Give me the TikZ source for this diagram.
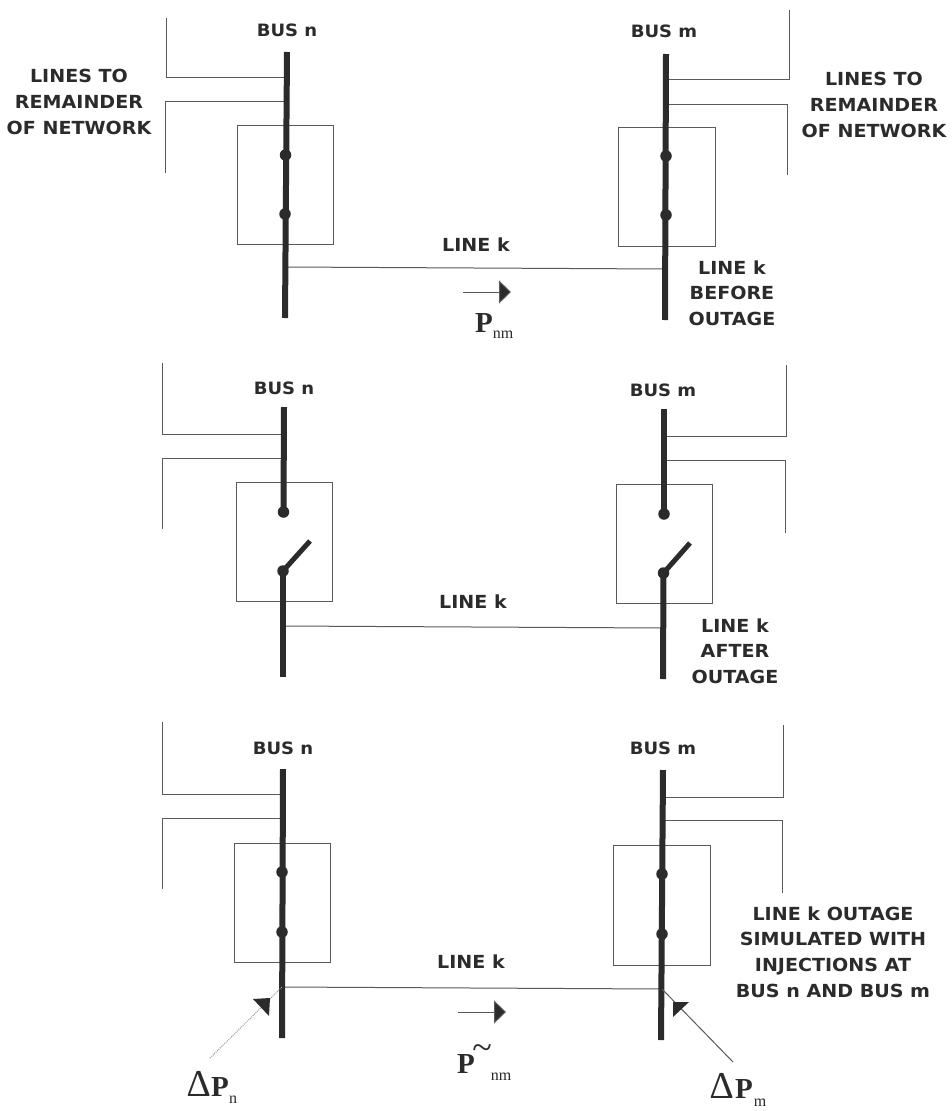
\documentclass[tikz,border=0pt]{standalone}
\usepackage{fontspec}
\setmainfont[FakeStretch=1.06]{DejaVu Sans}
\newfontfamily\pfont{Liberation Serif}
\usetikzlibrary{arrows.meta}
\definecolor{ink}{HTML}{2B2B2B}
\definecolor{thin}{HTML}{5A5A5A}
\tikzset{
  x=1pt,y=-1pt,
  busbar/.style={draw=ink,line width=6pt},
  wire/.style={draw=thin,line width=1pt},
  relaybox/.style={draw=thin,line width=1pt,fill=none},
  contact/.style={circle,fill=ink,inner sep=0pt,minimum size=11.5pt},
  blade/.style={draw=ink,line width=5pt},
  lab/.style={font=\fontsize{18}{25.7}\selectfont\bfseries,text=ink,align=center,inner sep=0pt},
  buslab/.style={font=\fontsize{17}{25.7}\selectfont\bfseries,text=ink,align=center,inner sep=0pt},
  flow/.style={draw=thin,line width=1pt,-{Triangle[length=12pt,width=23pt,fill=ink]}},
  pbig/.style={font=\pfont\fontsize{29}{29}\selectfont\bfseries,text=ink,inner sep=0pt},
  psub/.style={font=\pfont\fontsize{16}{16}\selectfont,text=ink,inner sep=0pt},
  dbig/.style={font=\pfont\fontsize{38}{38}\selectfont,text=ink,inner sep=0pt},
  tip/.style={fill=ink,draw=none},
}
\begin{document}
\begin{tikzpicture}
\useasboundingbox (0,0) rectangle (951,1111);
\fill[white] (0,0) rectangle (951,1111);

% ---------- panel 1 ----------
\draw[relaybox] (237,125) rectangle (333,244);
\draw[relaybox] (618,127) rectangle (715,246);
\coordinate (a1t) at (287,52);  \coordinate (a1b) at (285,318);
\coordinate (b1t) at (666,54);  \coordinate (b1b) at (665,320);
\coordinate (a1u) at (286,77);  \coordinate (a1l) at (286,101);
\coordinate (b1u) at (666,79);  \coordinate (b1l) at (666,104);
\coordinate (a1k) at (285,267); \coordinate (b1k) at (665,269);
\draw[wire] (166,18) |- (a1u);
\draw[wire] (165,173) |- (a1l);
\draw[wire] (789,10) |- (b1u);
\draw[wire] (787,175) |- (b1l);
\draw[wire] (a1k) -- (b1k);
\draw[busbar] (a1t) -- (a1b);
\draw[busbar] (b1t) -- (b1b);
\node[contact] (a1p) at (285.5,155) {};
\node[contact] (a1q) at (285,214) {};
\node[contact] (b1p) at (666,156) {};
\node[contact] (b1q) at (666,215) {};
\node[buslab] (bn1) at (287,30) {BUS n};
\node[buslab] (bm1) at (664,31) {BUS m};
\node[lab] (rem1) at (79,102) {LINES TO\\REMAINDER\\OF NETWORK};
\node[lab] (rem2) at (874,105) {LINES TO\\REMAINDER\\OF NETWORK};
\node[lab] (lk1) at (476,245) {LINE k};
\node[lab] (st1) at (732,293) {LINE k\\BEFORE\\OUTAGE};
\coordinate (f1s) at (463,292); \coordinate (f1e) at (511,292);
\draw[flow] (f1s) -- (f1e);
\node[pbig] (p1) at (484,323) {P};
\node[psub] (p1s) at (503,335) {nm};

% ---------- panel 2 ----------
\draw[relaybox] (236,482) rectangle (332,601);
\draw[relaybox] (616,484) rectangle (712,603);
\coordinate (a2t) at (284,407);  \coordinate (a2b) at (283,677);
\coordinate (b2t) at (664,409);  \coordinate (b2b) at (663,679);
\coordinate (a2u) at (284,434);  \coordinate (a2l) at (284,458);
\coordinate (b2u) at (664,436);  \coordinate (b2l) at (664,460);
\coordinate (a2k) at (283,626);  \coordinate (b2k) at (663,628);
\coordinate (a2s) at (310,541);  \coordinate (b2s) at (690,543);
\draw[wire] (162,363) |- (a2u);
\draw[wire] (162,529) |- (a2l);
\draw[wire] (786,365) |- (b2u);
\draw[wire] (785,533) |- (b2l);
\draw[wire] (a2k) -- (b2k);
\node[contact] (a2p) at (283.5,512) {};
\node[contact] (a2q) at (283,571) {};
\node[contact] (b2p) at (664,514) {};
\node[contact] (b2q) at (663.5,573) {};
\draw[busbar] (a2t) -- (a2p.center);
\draw[busbar] (a2q.center) -- (a2b);
\draw[busbar] (b2t) -- (b2p.center);
\draw[busbar] (b2q.center) -- (b2b);
\draw[blade] (a2q.center) -- (a2s);
\draw[blade] (b2q.center) -- (b2s);
\node[buslab] (bn2) at (284,388) {BUS n};
\node[buslab] (bm2) at (663,390) {BUS m};
\node[lab] (lk2) at (473,602) {LINE k};
\node[lab] (st2) at (735,651) {LINE k\\AFTER\\OUTAGE};

% ---------- panel 3 ----------
\draw[relaybox] (234,843) rectangle (330,962);
\draw[relaybox] (613,845) rectangle (710,965);
\coordinate (a3t) at (283,769);  \coordinate (a3b) at (282,1038);
\coordinate (b3t) at (663,770);  \coordinate (b3b) at (661,1040);
\coordinate (a3u) at (283,794);  \coordinate (a3l) at (283,818);
\coordinate (b3u) at (663,797);  \coordinate (b3l) at (663,820);
\coordinate (a3k) at (282,987);  \coordinate (b3k) at (662,989);
\draw[wire] (162,722) |- (a3u);
\draw[wire] (162,889) |- (a3l);
\draw[wire] (783,725) |- (b3u);
\draw[wire] (782,893) |- (b3l);
\draw[wire] (a3k) -- (b3k);
\draw[busbar] (a3t) -- (a3b);
\draw[busbar] (b3t) -- (b3b);
\node[contact] (a3p) at (282,872) {};
\node[contact] (a3q) at (282,932) {};
\node[contact] (b3p) at (662,874) {};
\node[contact] (b3q) at (662,934) {};
\node[buslab] (bn3) at (283,748) {BUS n};
\node[buslab] (bm3) at (663,748) {BUS m};
\node[lab] (lk3) at (471,962) {LINE k};
\node[lab] (st3) at (833,952) {LINE k OUTAGE\\SIMULATED WITH\\INJECTIONS AT\\BUS n AND BUS m};
\coordinate (f3s) at (458,1012); \coordinate (f3e) at (506,1012);
\draw[flow] (f3s) -- (f3e);
\node[pbig] (p3) at (466,1064) {P};
\node[pbig,font=\pfont\fontsize{36}{36}\selectfont] (p3t) at (482,1052) {\~{}};
\node[psub] (p3s) at (501,1077) {nm};
% injections
\coordinate (il) at (210,1058); \coordinate (ir) at (733,1062);
\draw[draw=thin!60,line width=1pt,densely dotted] (il) -- (a3k);
\fill[tip] (253,999) -- (270,998) -- (269,1016) -- cycle;
\draw[wire] (ir) -- (b3k);
\fill[tip] (673,1002) -- (689,1002) -- (673,1017) -- cycle;
\node[dbig] (dn) at (199,1084) {∆};
\node[pbig] (dnp) at (220,1087) {P};
\node[psub] (dns) at (233,1100) {n};
\node[dbig] (dm) at (722,1086) {∆};
\node[pbig] (dmp) at (744,1089) {P};
\node[psub] (dms) at (760,1103) {m};
\end{tikzpicture}
\end{document}
